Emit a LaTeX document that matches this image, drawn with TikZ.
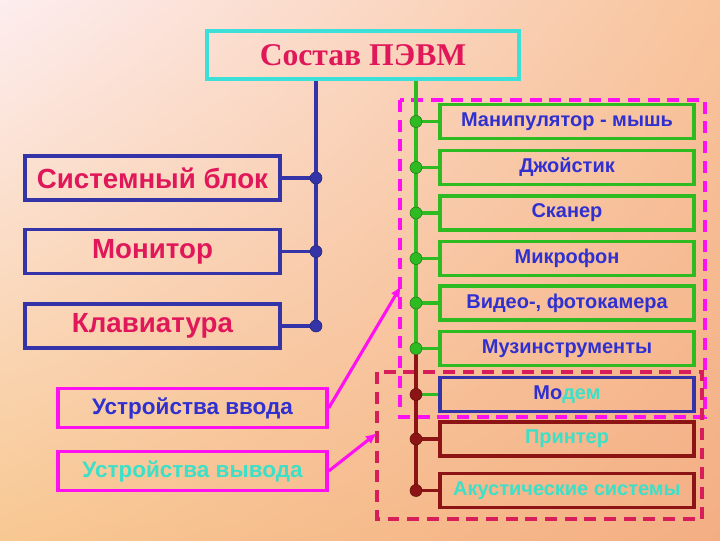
\documentclass[tikz,border=0pt]{standalone}
\usepackage{fontspec}
\setmainfont{Liberation Sans}
\newfontfamily\titlefont{Liberation Serif}
\usetikzlibrary{arrows.meta,shadings}

\definecolor{crim}{HTML}{E0185A}
\definecolor{navy}{HTML}{3434A8}
\definecolor{lgreen}{HTML}{2EBB22}
\definecolor{dgreen}{HTML}{1F7A18}
\definecolor{btext}{HTML}{3030D0}
\definecolor{ctext}{HTML}{3CE0C8}
\definecolor{turq}{HTML}{3CE0D8}
\definecolor{mag}{HTML}{FF10F0}
\definecolor{dashred}{HTML}{D81E5A}
\definecolor{dred}{HTML}{8C1414}
\definecolor{bgul}{HTML}{FDEDEF}
\definecolor{bgur}{HTML}{F8C49C}
\definecolor{bgll}{HTML}{F8C892}
\definecolor{bglr}{HTML}{F4AE84}

\begin{document}
\begin{tikzpicture}[x=0.025cm, y=-0.025cm,
  sysbox/.style={rectangle, draw=navy, line width=2.4pt, minimum width=6.375cm, minimum height=1.1cm, text=crim, font=\bfseries\fontsize{19.7}{21}\selectfont},
  devbox/.style={rectangle, draw=lgreen, line width=2.4pt, minimum width=6.35cm, minimum height=0.85cm, text=btext, font=\bfseries\fontsize{14.2}{16}\selectfont},
  outbox/.style={devbox, draw=dred, text=ctext},
  kindbox/.style={rectangle, draw=mag, line width=2.4pt, minimum width=6.725cm, minimum height=0.97cm, font=\bfseries\fontsize{16}{18}\selectfont},
  bdot/.style={circle, fill=navy, draw=navy!70!black, inner sep=0pt, minimum size=0.3cm},
  gdot/.style={bdot, fill=lgreen, draw=dgreen},
  rdot/.style={bdot, fill=dred, draw=dred!70!black},
  arrow/.style={-{Latex[length=8pt, width=7pt]}, mag, line width=2.2pt},
  group/.style={line width=2.4pt, dash pattern=on 8.5pt off 5.5pt},
]
  % background
  \shade[upper left=bgul, upper right=bgur, lower left=bgll, lower right=bglr]
    (0,0) rectangle (720,540);
  \useasboundingbox (0,0) rectangle (720,540);

  % groups
  \draw[group, mag] (400,100) rectangle (705,417);
  \draw[group, dashred] (377,372) rectangle (702,519);

  \node[rectangle, draw=turq, line width=2.6pt, minimum width=7.8cm, minimum height=1.2cm,
        text=crim, font=\titlefont\bfseries\fontsize{22.5}{24}\selectfont] (title) at (363,55) {Состав ПЭВМ};

  % system unit side
  \node[sysbox] (sb) at (152.5,178) {Системный блок};
  \node[sysbox] (mon) at (152.5,251.5) {Монитор};
  \node[sysbox] (kb) at (152.5,326) {Клавиатура};

  \coordinate (sbdot) at (316,178);
  \coordinate (mondot) at (316,251.5);
  \coordinate (kbdot) at (316,326);

  \draw[navy, line width=2.4pt] (title.south -| kbdot) -- (kbdot);
  \foreach \n in {sb,mon,kb} {
    \draw[navy, line width=2.4pt] (\n) -- (\n dot);
    \node[bdot] at (\n dot) {};
  }

  % devices
  \node[devbox] (mouse) at (567,121.5) {Манипулятор - мышь};
  \node[devbox] (joy) at (567,167.5) {Джойстик};
  \node[devbox] (scan) at (567,213) {Сканер};
  \node[devbox] (mic) at (567,258.5) {Микрофон};
  \node[devbox] (cam) at (567,303) {Видео-, фотокамера};
  \node[devbox] (mus) at (567,348.5) {Музинструменты};
  \node[devbox, draw=navy] (modem) at (567,394.5) {{\color{btext}Мо}{\color{ctext}дем}};
  \node[outbox] (print) at (567,439) {Принтер};
  \node[outbox] (acou) at (567,490.5) {Акустические системы};

  \foreach \n in {mouse,joy,scan,mic,cam,mus,modem,print,acou} {
    \coordinate (\n dot) at (416,0 |- \n);
  }

  \draw[lgreen, line width=2.4pt] (title.south -| musdot) -- (musdot);
  \draw[dred, line width=2.4pt] (musdot) -- (acoudot);
  \foreach \n in {mouse,joy,scan,mic,cam,mus,modem} {
    \draw[lgreen, line width=2.4pt] (\n dot) -- (\n);
  }
  \draw[dred, line width=2.4pt] (printdot) -- (print);
  \draw[dred, line width=2.4pt] (acoudot) -- (acou);
  \foreach \n in {mouse,joy,scan,mic,cam,mus} {
    \node[gdot] at (\n dot) {};
  }
  \foreach \n in {modem,print,acou} {
    \node[rdot] at (\n dot) {};
  }

  % input / output
  \node[kindbox, text=btext] (inp) at (192.5,408) {Устройства ввода};
  \node[kindbox, text=ctext] (outp) at (192.5,471) {Устройства вывода};
  \coordinate (inptip) at (401,286);
  \coordinate (outptip) at (377,433);
  \draw[arrow] (inp.east) -- (inptip);
  \draw[arrow] (outp.east) -- (outptip);
\end{tikzpicture}
\end{document}
